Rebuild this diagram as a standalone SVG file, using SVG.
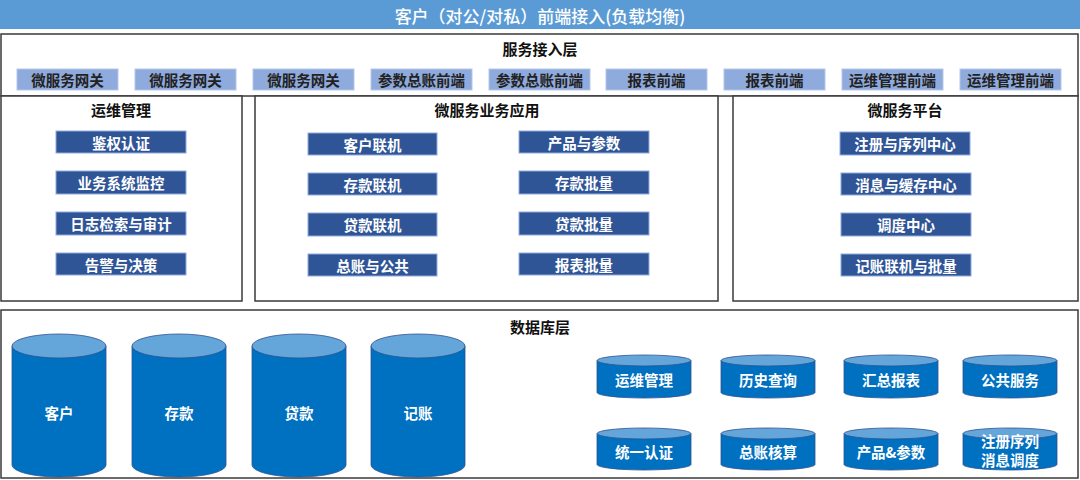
<svg xmlns="http://www.w3.org/2000/svg" width="1080" height="480" viewBox="0 0 1080 480">
<style>
text{font-family:"Noto Sans CJK SC","Noto Sans",sans-serif;text-anchor:middle;dominant-baseline:central}
.frame{fill:#fff;stroke:#3a3a3a;stroke-width:1.5}
.title{font-size:15px;font-weight:bold;fill:#111}
.gw{fill:#8FAADC;stroke:#B4C7E7;stroke-width:1}
.gwt{font-size:14.5px;font-weight:bold;fill:#222}
.btn{fill:#2F5597;stroke:#8FAADC;stroke-width:1}
.btnt{font-size:14.5px;font-weight:bold;fill:#fff}
.cyl{fill:#0070C0;stroke:#2F528F;stroke-width:0.8}
.cap{fill:#65A6DA;stroke:#2F528F;stroke-width:0.8}
.cylt{font-size:14.5px;font-weight:bold;fill:#fff}
</style>
<rect width="1080" height="480" fill="#fff"/>
<g id="top-bar">
<rect x="0" y="0" width="1080" height="29" fill="#5B9BD5"/>
<text x="540" y="15" font-size="17" font-weight="500" fill="#fff">客户（对公/对私）前端接入(负载均衡)</text>
</g>
<g id="service-access-layer">
<rect class="frame" x="1" y="34" width="1077" height="62"/>
<text class="title" x="540" y="48" font-size="16">服务接入层</text>
<g id="gw1"><rect class="gw" x="17" y="69" width="101" height="21"/><text class="gwt" x="67.5" y="79.5">微服务网关</text></g>
<g id="gw2"><rect class="gw" x="135" y="69" width="101" height="21"/><text class="gwt" x="185.5" y="79.5">微服务网关</text></g>
<g id="gw3"><rect class="gw" x="253" y="69" width="101" height="21"/><text class="gwt" x="303.5" y="79.5">微服务网关</text></g>
<g id="gw4"><rect class="gw" x="371" y="69" width="101" height="21"/><text class="gwt" x="421.5" y="79.5">参数总账前端</text></g>
<g id="gw5"><rect class="gw" x="489" y="69" width="101" height="21"/><text class="gwt" x="539.5" y="79.5">参数总账前端</text></g>
<g id="gw6"><rect class="gw" x="606" y="69" width="101" height="21"/><text class="gwt" x="656.5" y="79.5">报表前端</text></g>
<g id="gw7"><rect class="gw" x="724" y="69" width="101" height="21"/><text class="gwt" x="774.5" y="79.5">报表前端</text></g>
<g id="gw8"><rect class="gw" x="842" y="69" width="101" height="21"/><text class="gwt" x="892.5" y="79.5">运维管理前端</text></g>
<g id="gw9"><rect class="gw" x="960" y="69" width="101" height="21"/><text class="gwt" x="1010.5" y="79.5">运维管理前端</text></g>
</g>
<g id="ops-panel">
<rect class="frame" x="1" y="96" width="241" height="205"/>
<text class="title" x="121" y="109">运维管理</text>
<g id="ops1"><rect class="btn" x="56" y="131" width="130" height="22"/><text class="btnt" x="121" y="142">鉴权认证</text></g>
<g id="ops2"><rect class="btn" x="56" y="171" width="130" height="23"/><text class="btnt" x="121" y="182.5">业务系统监控</text></g>
<g id="ops3"><rect class="btn" x="56" y="212" width="130" height="23"/><text class="btnt" x="121" y="223.5">日志检索与审计</text></g>
<g id="ops4"><rect class="btn" x="56" y="253" width="130" height="22"/><text class="btnt" x="121" y="264">告警与决策</text></g>
</g>
<g id="biz-panel">
<rect class="frame" x="255" y="96" width="463" height="205"/>
<text class="title" x="487" y="109">微服务业务应用</text>
<g id="biz1"><rect class="btn" x="308" y="133" width="129" height="22"/><text class="btnt" x="372.5" y="144">客户联机</text></g>
<g id="biz2"><rect class="btn" x="308" y="173" width="129" height="22"/><text class="btnt" x="372.5" y="184">存款联机</text></g>
<g id="biz3"><rect class="btn" x="308" y="213" width="129" height="23"/><text class="btnt" x="372.5" y="224.5">贷款联机</text></g>
<g id="biz4"><rect class="btn" x="308" y="254" width="129" height="22"/><text class="btnt" x="372.5" y="265">总账与公共</text></g>
<g id="biz5"><rect class="btn" x="519" y="131" width="130" height="22"/><text class="btnt" x="584" y="142">产品与参数</text></g>
<g id="biz6"><rect class="btn" x="519" y="171" width="130" height="23"/><text class="btnt" x="584" y="182.5">存款批量</text></g>
<g id="biz7"><rect class="btn" x="519" y="212" width="130" height="23"/><text class="btnt" x="584" y="223.5">贷款批量</text></g>
<g id="biz8"><rect class="btn" x="519" y="253" width="130" height="22"/><text class="btnt" x="584" y="264">报表批量</text></g>
</g>
<g id="platform-panel">
<rect class="frame" x="733" y="96" width="345" height="205"/>
<text class="title" x="905" y="109">微服务平台</text>
<g id="pf1"><rect class="btn" x="840" y="132" width="130" height="23"/><text class="btnt" x="905" y="143.5">注册与序列中心</text></g>
<g id="pf2"><rect class="btn" x="841" y="173" width="130" height="22"/><text class="btnt" x="906" y="184">消息与缓存中心</text></g>
<g id="pf3"><rect class="btn" x="841" y="213" width="130" height="23"/><text class="btnt" x="906" y="224.5">调度中心</text></g>
<g id="pf4"><rect class="btn" x="841" y="254" width="130" height="22"/><text class="btnt" x="906" y="265">记账联机与批量</text></g>
</g>
<g id="db-layer">
<rect class="frame" x="1" y="310" width="1077" height="168"/>
<text class="title" x="540" y="326">数据库层</text>
<g id="db-cust"><path class="cyl" d="M12 346 V465 A47 12 0 0 0 106 465 V346 Z"/><ellipse class="cap" cx="59" cy="346" rx="47" ry="12"/><text class="cylt" x="59" y="412">客户</text></g>
<g id="db-dep"><path class="cyl" d="M132 346 V465 A47 12 0 0 0 226 465 V346 Z"/><ellipse class="cap" cx="179" cy="346" rx="47" ry="12"/><text class="cylt" x="179" y="412">存款</text></g>
<g id="db-loan"><path class="cyl" d="M252 346 V465 A47 12 0 0 0 346 465 V346 Z"/><ellipse class="cap" cx="299" cy="346" rx="47" ry="12"/><text class="cylt" x="299" y="412">贷款</text></g>
<g id="db-acct"><path class="cyl" d="M371 346 V465 A47 12 0 0 0 465 465 V346 Z"/><ellipse class="cap" cx="418" cy="346" rx="47" ry="12"/><text class="cylt" x="418" y="412">记账</text></g>
<g id="db-ops"><path class="cyl" d="M597 360.5 V392.5 A47 5.5 0 0 0 691 392.5 V360.5 Z"/><ellipse class="cap" cx="644" cy="360.5" rx="47" ry="5.5"/><text class="cylt" x="644" y="379">运维管理</text></g>
<g id="db-hist"><path class="cyl" d="M721 360.5 V392.5 A47 5.5 0 0 0 815 392.5 V360.5 Z"/><ellipse class="cap" cx="768" cy="360.5" rx="47" ry="5.5"/><text class="cylt" x="768" y="379">历史查询</text></g>
<g id="db-rpt"><path class="cyl" d="M844 360.5 V392.5 A47 5.5 0 0 0 938 392.5 V360.5 Z"/><ellipse class="cap" cx="891" cy="360.5" rx="47" ry="5.5"/><text class="cylt" x="891" y="379">汇总报表</text></g>
<g id="db-pub"><path class="cyl" d="M963 360.5 V392.5 A47 5.5 0 0 0 1057 392.5 V360.5 Z"/><ellipse class="cap" cx="1010" cy="360.5" rx="47" ry="5.5"/><text class="cylt" x="1010" y="379">公共服务</text></g>
<g id="db-auth"><path class="cyl" d="M597 433.5 V464.5 A47 5.5 0 0 0 691 464.5 V433.5 Z"/><ellipse class="cap" cx="644" cy="433.5" rx="47" ry="5.5"/><text class="cylt" x="644" y="451">统一认证</text></g>
<g id="db-gl"><path class="cyl" d="M721 433.5 V464.5 A47 5.5 0 0 0 815 464.5 V433.5 Z"/><ellipse class="cap" cx="768" cy="433.5" rx="47" ry="5.5"/><text class="cylt" x="768" y="451">总账核算</text></g>
<g id="db-prod"><path class="cyl" d="M844 433.5 V464.5 A47 5.5 0 0 0 938 464.5 V433.5 Z"/><ellipse class="cap" cx="891" cy="433.5" rx="47" ry="5.5"/><text class="cylt" x="891" y="451">产品&amp;参数</text></g>
<g id="db-reg"><path class="cyl" d="M963 433.5 V464.5 A47 5.5 0 0 0 1057 464.5 V433.5 Z"/><ellipse class="cap" cx="1010" cy="433.5" rx="47" ry="5.5"/><text class="cylt" x="1010" y="440" font-size="13">注册序列</text><text class="cylt" x="1010" y="459" font-size="13">消息调度</text></g>
</g>
</svg>
